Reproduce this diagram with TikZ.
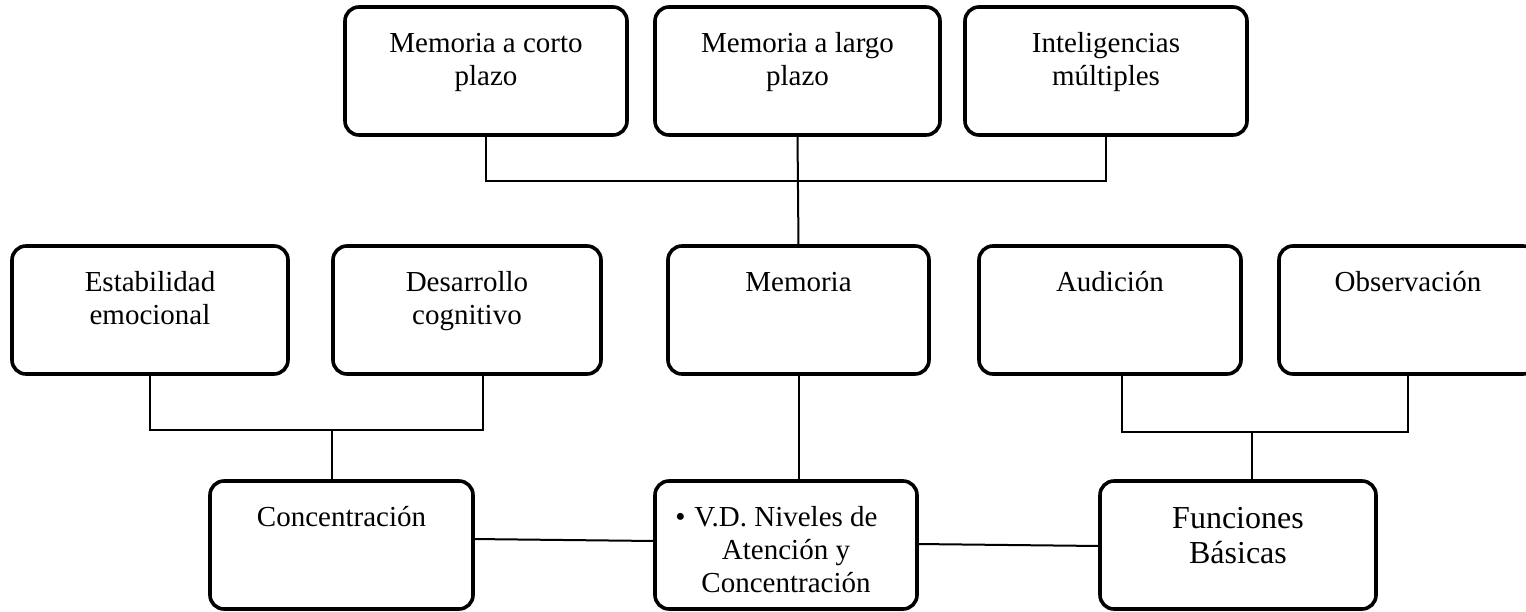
\documentclass[tikz,border=0pt]{standalone}
\usepackage{fontspec}
\setmainfont{Liberation Serif}
\usetikzlibrary{positioning}

\begin{document}
\begin{tikzpicture}[x=0.5pt,y=-0.5pt]
\tikzstyle{roundbox}=[draw=black,line width=1.8pt,rounded corners=7pt,align=flush center,inner sep=0pt,outer sep=0pt,text height=22.5pt,text depth=41.5pt,font=\fontsize{14.5}{16.5}\selectfont]
\tikzstyle{link}=[line width=1pt]
\useasboundingbox (0,0) rectangle (1526,611);
\clip (0,0) rectangle (1526,611);
% top row
\node [roundbox,text width=141pt,anchor=north west] at (345,7) (corto) {Memoria a corto\\plazo};
\node [roundbox,text width=142.5pt,right=14pt of corto] (largo) {Memoria a largo\\plazo};
\node [roundbox,text width=141pt,right=12.5pt of largo] (intel) {Inteligencias\\múltiples};
% middle row
\node [roundbox,text width=138pt,anchor=north west] at (12,246) (estab) {Estabilidad\\emocional};
\node [roundbox,text width=134pt,right=22.5pt of estab] (desa) {Desarrollo\\cognitivo};
\node [roundbox,text width=130.5pt,right=33.5pt of desa] (mem) {Memoria};
\node [roundbox,text width=131pt,right=25pt of mem] (aud) {Audición};
\node [roundbox,text width=129pt,right=19pt of aud] (obs) {Observación};
% bottom row
\node [roundbox,text width=131.5pt,anchor=north west] at (210,481) (conc) {Concentración};
\node [roundbox,text width=131pt,right=91pt of conc] (vd) {\llap{\textbullet\hspace{4.5pt}}V.D. Niveles de\\Atención y\\Concentración};
\node [roundbox,text width=138pt,text height=23.5pt,text depth=40.5pt,font=\fontsize{16}{17.5}\selectfont,right=91.5pt of vd] (fun) {Funciones\\Básicas};
% connectors
\coordinate (topbus) at (797,181);
\coordinate (leftbus) at (332,430);
\coordinate (rightbus) at (1252,432);
\draw [link] (corto.south) |- (topbus) -| (intel.south);
\draw [link] (largo.south) -- (mem.north);
\draw [link] (estab.south) |- (leftbus) -| ([xshift=8pt]desa.south);
\draw [link] (leftbus) -- (leftbus |- conc.north);
\draw [link] (mem.south) -- (mem.south |- vd.north);
\draw [link] ([xshift=6pt]aud.south) |- (rightbus) -| (obs.south);
\draw [link] (rightbus) -- (rightbus |- fun.north);
\draw [link] ([yshift=3pt]conc.east) -- ([yshift=2pt]vd.west);
\draw [link] ([yshift=0.5pt]vd.east) -- ([yshift=-0.5pt]fun.west);
\end{tikzpicture}
\end{document}
